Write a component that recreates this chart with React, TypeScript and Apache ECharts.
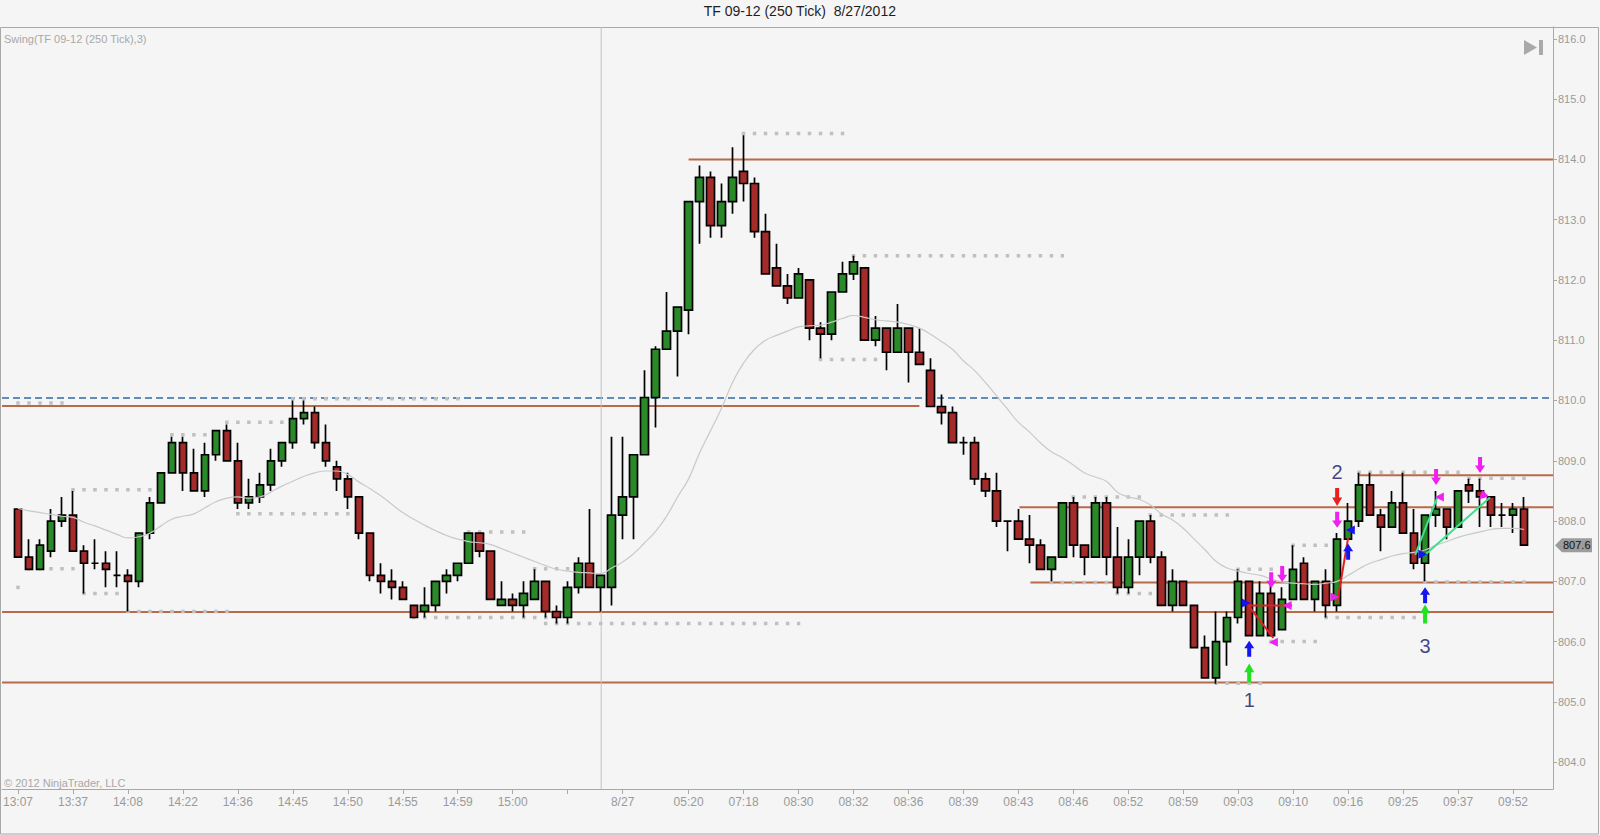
import React, { useEffect, useRef } from "react";
import * as echarts from "echarts";

// [open, close, low, high] per 250-tick bar
const CANDLES: number[][] = [
  [808.2, 807.4, 807.4, 808.2], [807.4, 807.2, 807.2, 807.7], [807.2, 807.6, 807.2, 807.7], [807.5, 808.0, 807.4, 808.2],
  [808.0, 808.1, 807.9, 808.4], [808.1, 807.5, 807.5, 808.5], [807.5, 807.3, 806.8, 807.6], [807.3, 807.3, 807.2, 807.7],
  [807.3, 807.2, 806.9, 807.5], [807.1, 807.1, 806.9, 807.5], [807.1, 807.0, 806.5, 807.2], [807.0, 807.8, 806.9, 807.8],
  [807.8, 808.3, 807.7, 808.4], [808.3, 808.8, 808.3, 808.8], [808.8, 809.3, 808.8, 809.4], [809.3, 808.8, 808.5, 809.4],
  [808.8, 808.5, 808.5, 809.2], [808.5, 809.1, 808.4, 809.3], [809.1, 809.5, 809.0, 809.5], [809.5, 809.0, 809.0, 809.6],
  [809.0, 808.3, 808.2, 809.3], [808.3, 808.4, 808.2, 808.7], [808.4, 808.6, 808.3, 808.8], [808.6, 809.0, 808.5, 809.2],
  [809.0, 809.3, 808.9, 809.3], [809.3, 809.7, 809.2, 810.0], [809.7, 809.8, 809.6, 810.0], [809.8, 809.3, 809.2, 809.9],
  [809.3, 809.0, 808.9, 809.6], [808.9, 808.7, 808.5, 809.0], [808.7, 808.4, 808.2, 808.8], [808.4, 807.8, 807.7, 808.4],
  [807.8, 807.1, 807.0, 807.8], [807.1, 807.0, 806.8, 807.3], [807.0, 806.9, 806.7, 807.2], [806.9, 806.7, 806.7, 807.0],
  [806.6, 806.4, 806.4, 806.6], [806.5, 806.6, 806.4, 806.9], [806.6, 807.0, 806.5, 807.0], [807.0, 807.1, 806.8, 807.2],
  [807.1, 807.3, 807.0, 807.3], [807.3, 807.8, 807.3, 807.8], [807.8, 807.5, 807.4, 807.8], [807.5, 806.7, 806.7, 807.5],
  [806.6, 806.7, 806.6, 807.0], [806.7, 806.6, 806.5, 806.8], [806.6, 806.8, 806.4, 807.0], [806.7, 807.0, 806.7, 807.2],
  [807.0, 806.5, 806.4, 807.0], [806.5, 806.4, 806.3, 806.6], [806.4, 806.9, 806.3, 807.0], [806.9, 807.3, 806.8, 807.4],
  [807.3, 806.9, 806.9, 808.2], [806.9, 807.1, 806.5, 807.1], [806.9, 808.1, 806.6, 809.4], [808.1, 808.4, 807.7, 809.4],
  [808.4, 809.1, 807.7, 809.1], [809.1, 810.05, 809.1, 810.5], [810.05, 810.85, 809.55, 810.9], [810.85, 811.15, 810.85, 811.8],
  [811.15, 811.55, 810.4, 811.55], [811.5, 813.3, 811.1, 813.3], [813.3, 813.7, 812.6, 813.9], [813.7, 812.9, 812.7, 813.8],
  [812.9, 813.3, 812.7, 813.6], [813.3, 813.7, 813.1, 814.2], [813.8, 813.6, 813.3, 814.4], [813.6, 812.8, 812.7, 813.7],
  [812.8, 812.1, 812.1, 813.1], [812.2, 811.9, 811.9, 812.6], [811.9, 811.7, 811.6, 812.1], [811.7, 812.1, 811.7, 812.2],
  [812.0, 811.2, 811.0, 812.0], [811.2, 811.1, 810.7, 811.3], [811.1, 811.8, 811.0, 811.8], [811.8, 812.1, 811.8, 812.3],
  [812.1, 812.3, 812.0, 812.4], [812.2, 811.0, 811.0, 812.2], [811.0, 811.2, 810.9, 811.4], [811.2, 810.8, 810.5, 811.2],
  [810.8, 811.2, 810.8, 811.6], [811.2, 810.8, 810.3, 811.2], [810.8, 810.6, 810.6, 811.2], [810.5, 809.9, 809.9, 810.7],
  [809.9, 809.8, 809.6, 810.1], [809.8, 809.3, 809.3, 809.9], [809.3, 809.3, 809.1, 809.4], [809.3, 808.7, 808.6, 809.4],
  [808.7, 808.5, 808.4, 808.8], [808.5, 808.0, 807.9, 808.8], [808.0, 808.0, 807.5, 808.0], [808.0, 807.7, 807.7, 808.2],
  [807.7, 807.6, 807.3, 808.1], [807.6, 807.2, 807.2, 807.7], [807.2, 807.4, 807.0, 807.4], [807.4, 808.3, 807.4, 808.3],
  [808.3, 807.6, 807.4, 808.4], [807.6, 807.4, 807.1, 807.6], [807.4, 808.3, 807.4, 808.4], [808.3, 807.4, 807.1, 808.4],
  [807.4, 806.9, 806.8, 807.9], [806.9, 807.4, 806.8, 807.7], [807.4, 808.0, 807.1, 808.0], [808.0, 807.4, 807.3, 808.1],
  [807.4, 806.6, 806.6, 807.5], [806.6, 807.0, 806.5, 807.2], [807.0, 806.6, 806.6, 807.0], [806.6, 805.9, 805.9, 806.6],
  [805.9, 805.4, 805.4, 806.1], [805.4, 806.0, 805.3, 806.5], [806.0, 806.4, 805.6, 806.5], [806.4, 807.0, 806.3, 807.2],
  [807.0, 806.1, 806.1, 807.0], [806.1, 806.8, 806.1, 807.0], [806.8, 806.1, 806.1, 807.0], [806.2, 806.7, 806.2, 806.9],
  [806.7, 807.2, 806.7, 807.6], [807.3, 806.7, 806.7, 807.4], [806.7, 807.0, 806.5, 807.0], [807.0, 806.6, 806.4, 807.2],
  [806.6, 807.7, 806.5, 807.8], [807.7, 808.0, 807.7, 808.3], [808.0, 808.6, 807.9, 808.8], [808.6, 808.1, 808.1, 808.8],
  [808.1, 807.9, 807.5, 808.2], [807.9, 808.3, 807.9, 808.5], [808.3, 807.8, 807.8, 808.8], [807.8, 807.3, 807.2, 808.2],
  [807.3, 808.1, 807.0, 808.1], [808.1, 808.2, 807.9, 808.5], [808.2, 807.9, 807.7, 808.2], [807.9, 808.5, 807.9, 808.5],
  [808.6, 808.5, 808.3, 808.7], [808.5, 808.4, 807.9, 808.7], [808.4, 808.1, 807.9, 808.4], [808.1, 808.1, 807.9, 808.3],
  [808.1, 808.2, 807.8, 808.3], [808.2, 807.6, 807.6, 808.4],
];

// moving average (thin grey line), one value per bar
const SMA: number[] = [
  808.21, 808.17, 808.14, 808.11, 808.08, 808.06, 807.98, 807.92, 807.85, 807.78,
  807.72, 807.74, 807.80, 807.92, 808.03, 808.08, 808.12, 808.22, 808.32, 808.38,
  808.40, 808.38, 808.40, 808.48, 808.58, 808.66, 808.74, 808.80, 808.83, 808.83,
  808.77, 808.65, 808.54, 808.42, 808.28, 808.14, 808.03, 807.93, 807.84, 807.76,
  807.70, 807.66, 807.64, 807.61, 807.54, 807.47, 807.40, 807.33, 807.26, 807.20,
  807.17, 807.15, 807.14, 807.13, 807.22, 807.32, 807.46, 807.64, 807.83, 808.08,
  808.40, 808.70, 809.13, 809.50, 809.87, 810.30, 810.62, 810.85, 811.00, 811.08,
  811.15, 811.22, 811.24, 811.25, 811.30, 811.36, 811.41, 811.38, 811.34, 811.32,
  811.30, 811.26, 811.20, 811.10, 810.98, 810.85, 810.66, 810.50, 810.30, 810.08,
  809.86, 809.64, 809.48, 809.30, 809.15, 809.05, 808.93, 808.80, 808.73, 808.66,
  808.48, 808.40, 808.36, 808.27, 808.12, 808.02, 807.88, 807.70, 807.52, 807.33,
  807.22, 807.17, 807.13, 807.10, 807.04, 806.99, 806.97, 806.96, 806.95, 806.97,
  807.00, 807.10, 807.21, 807.30, 807.36, 807.42, 807.46, 807.48, 807.52, 807.60,
  807.66, 807.73, 807.78, 807.82, 807.86, 807.88, 807.88, 807.86,
];

const TICK_INDEX = [0, 5, 10, 15, 20, 25, 30, 35, 40, 45, 50, 55, 61, 66, 71, 76, 81, 86, 91, 96, 101, 106, 111, 116, 121, 126, 131, 136];
const TICK_LABELS = ["13:07", "13:37", "14:08", "14:22", "14:36", "14:45", "14:50", "14:55", "14:59", "15:00", "", "8/27",
  "05:20", "07:18", "08:30", "08:32", "08:36", "08:39", "08:43", "08:46", "08:52", "08:59", "09:03", "09:10", "09:16",
  "09:25", "09:37", "09:52"];
const Y_TICKS = [804, 805, 806, 807, 808, 809, 810, 811, 812, 813, 814, 815, 816];

const X_MIN = -1.4545;
const X_MAX = 139.636;
const Y_MIN = 803.555;
const Y_MAX = 816.196;
const SESSION_BREAK = 53.05;
const BLUE_LEVEL = 810.04;

// [fromBar, toBar, price]
const BROWN_LEVELS: number[][] = [
  [X_MIN, 82, 809.91], [61, X_MAX, 814.0], [91.1, X_MAX, 808.23], [92.1, X_MAX, 806.98],
  [X_MIN, X_MAX, 806.49], [X_MIN, X_MAX, 805.32], [122, X_MAX, 808.76],
];
const SWING_DOTS: number[][] = [
  [0, 4, 809.96], [0, 0, 806.9], [1, 5, 807.21], [6, 9, 806.8], [5, 12, 808.52], [14, 17, 809.43],
  [19, 24, 809.64], [20, 30, 808.12], [10, 19, 806.5], [25, 40, 810.03], [41, 46, 807.82], [47, 50, 807.21],
  [36, 48, 806.4], [48, 71, 806.3], [66, 75, 814.43], [76, 95, 812.4], [73, 78, 810.68], [96, 102, 808.4],
  [103, 110, 808.1], [94, 99, 806.98], [100, 103, 806.8], [122, 131, 808.81], [132, 137, 808.71],
  [116, 119, 807.6], [111, 114, 807.2], [128, 137, 806.99], [119, 128, 806.4], [114, 118, 806.0], [109, 113, 805.31],
];

// swing signal markers: [bar, price]
const MAGENTA_DOWN = [[114, 807.02], [115, 807.12], [120, 808.02], [129, 808.73], [133, 808.93]];
const RED_DOWN = [[120, 808.4]];
const BLUE_UP = [[112, 805.88], [121, 807.49], [128, 806.77]];
const GREEN_UP = [[112, 805.48], [128, 806.46]];
const BLUE_RIGHT = [[111.73, 806.64], [127.8, 807.45]];
const BLUE_LEFT = [[121.2, 807.85]];
const MAGENTA_RIGHT = [[119.8, 806.74]];
const MAGENTA_LEFT = [[115.45, 806.6], [114.2, 805.99], [129.3, 808.4]];
const MAGENTA_DIAG = [[133.2, 808.41]];
const RED_LINES = [
  [[111.9, 806.6], [115.9, 806.6]],
  [[111.9, 806.6], [114.2, 806.06]],
  [[120, 806.64], [121, 807.72]],
];
const GREEN_LINES = [
  [[127.1, 807.44], [129.1, 808.39]],
  [[128, 807.44], [133.9, 808.39]],
];
const SWING_NUMBERS = [
  { value: [112, 805.03], name: "1" },
  { value: [120, 808.81], name: "2" },
  { value: [128, 805.93], name: "3" },
];

const FONT = "'Liberation Sans', Arial, sans-serif";
const NARROW = "'Liberation Sans Narrow', 'Liberation Sans', Arial, sans-serif";
const DOWN_ARROW = "path://M3,0L7,0L7,8L10,8L5,15L0,8L3,8Z";
const UP_ARROW = "path://M5,0L10,7L7,7L7,15L3,15L3,7L0,7Z";

function markerSeries(data: number[][], symbol: string, color: string, size: any, rotate = 0) {
  return {
    type: "scatter",
    data,
    symbol,
    symbolSize: size,
    symbolRotate: rotate,
    itemStyle: { color, opacity: 1 },
    silent: true,
    z: 6,
  };
}

export default function App() {
  const ref = useRef<HTMLDivElement>(null);

  useEffect(() => {
    document.body.style.margin = "0";
    if (!ref.current) return;
    const chart = echarts.init(ref.current, undefined, { renderer: "svg" });

    const series: any[] = [];
    BROWN_LEVELS.forEach(([a, b, p]) =>
      series.push({
        type: "line", data: [[a, p], [b, p]], symbol: "none", silent: true, z: 1,
        lineStyle: { color: "#b86a4a", width: 2 },
      })
    );
    series.push({
      type: "line", data: [[X_MIN, BLUE_LEVEL], [X_MAX, BLUE_LEVEL]], symbol: "none", silent: true, z: 1,
      lineStyle: { color: "#5f8db8", width: 2, type: [7, 4] },
    });
    SWING_DOTS.forEach(([a, b, p]) =>
      series.push({
        type: "line", data: [[a - 0.16, p], [b + 0.16, p]], symbol: "none", silent: true, z: 1,
        lineStyle: { color: "#c0c0c0", width: 3.5, type: [3.5, 7.5], cap: "butt" },
      })
    );
    series.push({
      type: "line", data: [[SESSION_BREAK, Y_MIN], [SESSION_BREAK, Y_MAX]], symbol: "none", silent: true, z: 1,
      lineStyle: { color: "#c2c2c2", width: 1 },
    });
    series.push({
      type: "candlestick",
      data: CANDLES.map((c, i) => [i, c[0], c[1], c[2], c[3]]),
      encode: { x: 0, y: [1, 2, 3, 4] },
      barWidth: 8,
      silent: true,
      z: 3,
      itemStyle: {
        color: "#2a8a2a", color0: "#a52a2a",
        borderColor: "#000", borderColor0: "#000", borderColorDoji: "#000",
        borderWidth: 1.7,
      },
    });
    series.push({
      type: "line", data: SMA.map((v, i) => [i, v]), symbol: "none", smooth: true, silent: true, z: 4,
      lineStyle: { color: "#c9c9c9", width: 1.2 },
    });
    RED_LINES.forEach((d) =>
      series.push({ type: "line", data: d, symbol: "none", silent: true, z: 5, lineStyle: { color: "#e02020", width: 2 } })
    );
    GREEN_LINES.forEach((d) =>
      series.push({ type: "line", data: d, symbol: "none", silent: true, z: 5, lineStyle: { color: "#3de08c", width: 2 } })
    );
    series.push(markerSeries(MAGENTA_DOWN, DOWN_ARROW, "#f020f0", [10, 16]));
    series.push(markerSeries(RED_DOWN, DOWN_ARROW, "#e82020", [10, 18]));
    series.push(markerSeries(BLUE_UP, UP_ARROW, "#1515f0", [10, 16]));
    series.push(markerSeries(GREEN_UP, UP_ARROW, "#22e022", [10, 19]));
    series.push(markerSeries(BLUE_RIGHT, "triangle", "#1515f0", 9, -90));
    series.push(markerSeries(BLUE_LEFT, "triangle", "#1515f0", 9, 90));
    series.push(markerSeries(MAGENTA_RIGHT, "triangle", "#f020f0", 9, -90));
    series.push(markerSeries(MAGENTA_LEFT, "triangle", "#f020f0", 9, 90));
    series.push(markerSeries(MAGENTA_DIAG, "triangle", "#f020f0", 9, 135));
    series.push({
      type: "scatter", data: SWING_NUMBERS, symbolSize: 1, silent: true, z: 7,
      itemStyle: { color: "rgba(0,0,0,0)" },
      label: { show: true, position: "inside", formatter: "{b}", color: "#141466", fontSize: 20, fontFamily: FONT },
    });

    const option: any = {
      animation: false,
      backgroundColor: "#f5f5f5",
      grid: { left: 1, right: 47, top: 27, bottom: 46, containLabel: false },
      xAxis: {
        type: "value", min: X_MIN, max: X_MAX,
        axisLine: { show: true, onZero: false, lineStyle: { color: "#a8a8a8", width: 1 } },
        axisTick: { show: true, customValues: TICK_INDEX, length: 5, lineStyle: { color: "#a8a8a8" } },
        axisLabel: {
          show: true, customValues: TICK_INDEX, margin: 7, color: "#9a9a9a", fontSize: 12, fontFamily: NARROW,
          formatter: (v: number) => {
            const k = TICK_INDEX.indexOf(Math.round(v));
            return k >= 0 ? TICK_LABELS[k] : "";
          },
        },
        splitLine: { show: false },
      },
      yAxis: {
        type: "value", position: "right", min: Y_MIN, max: Y_MAX,
        axisLine: { show: true, onZero: false, lineStyle: { color: "#a8a8a8", width: 1 } },
        axisTick: { show: true, customValues: Y_TICKS, length: 4, lineStyle: { color: "#a8a8a8" } },
        axisLabel: {
          show: true, customValues: Y_TICKS, margin: 5, color: "#9a9a9a", fontSize: 11, fontFamily: NARROW,
          formatter: (v: number) => v.toFixed(1),
        },
        splitLine: { show: false },
      },
      series,
    };
    chart.setOption(option);

    const last = CANDLES[CANDLES.length - 1][1];
    const py = chart.convertToPixel({ yAxisIndex: 0 }, last) as number;
    chart.setOption({
      graphic: [
        { type: "rect", shape: { x: 0.5, y: 27.5, width: 1598, height: 806.5 }, style: { fill: "none", stroke: "#a8a8a8", lineWidth: 1 }, silent: true },
        { type: "text", left: "center", top: 4, style: { text: "TF 09-12 (250 Tick)  8/27/2012", fontSize: 14, fill: "#1e1e1e", fontFamily: FONT } },
        { type: "text", x: 4, y: 33, style: { text: "Swing(TF 09-12 (250 Tick),3)", fontSize: 11, fill: "#a8a8a8", fontFamily: NARROW } },
        { type: "text", x: 4, y: 777, style: { text: "© 2012 NinjaTrader, LLC", fontSize: 11, fill: "#a8a8a8", fontFamily: NARROW } },
        { type: "polygon", shape: { points: [[1524, 40], [1537, 47.5], [1524, 55]] }, style: { fill: "#a9a9a9" }, silent: true },
        { type: "rect", shape: { x: 1539, y: 40, width: 4, height: 15 }, style: { fill: "#a9a9a9" }, silent: true },
        {
          type: "polygon",
          shape: { points: [[1555, py], [1562, py - 7], [1592, py - 7], [1592, py + 7], [1562, py + 7]] },
          style: { fill: "#9c9c9c" }, silent: true,
        },
        {
          type: "text", x: 1563, y: py, style: { text: last.toFixed(1), fontSize: 11, fill: "#111", fontFamily: NARROW, verticalAlign: "middle" },
        },
      ],
    });

    return () => chart.dispose();
  }, []);

  return <div ref={ref} style={{ width: 1600, height: 835 }} />;
}
